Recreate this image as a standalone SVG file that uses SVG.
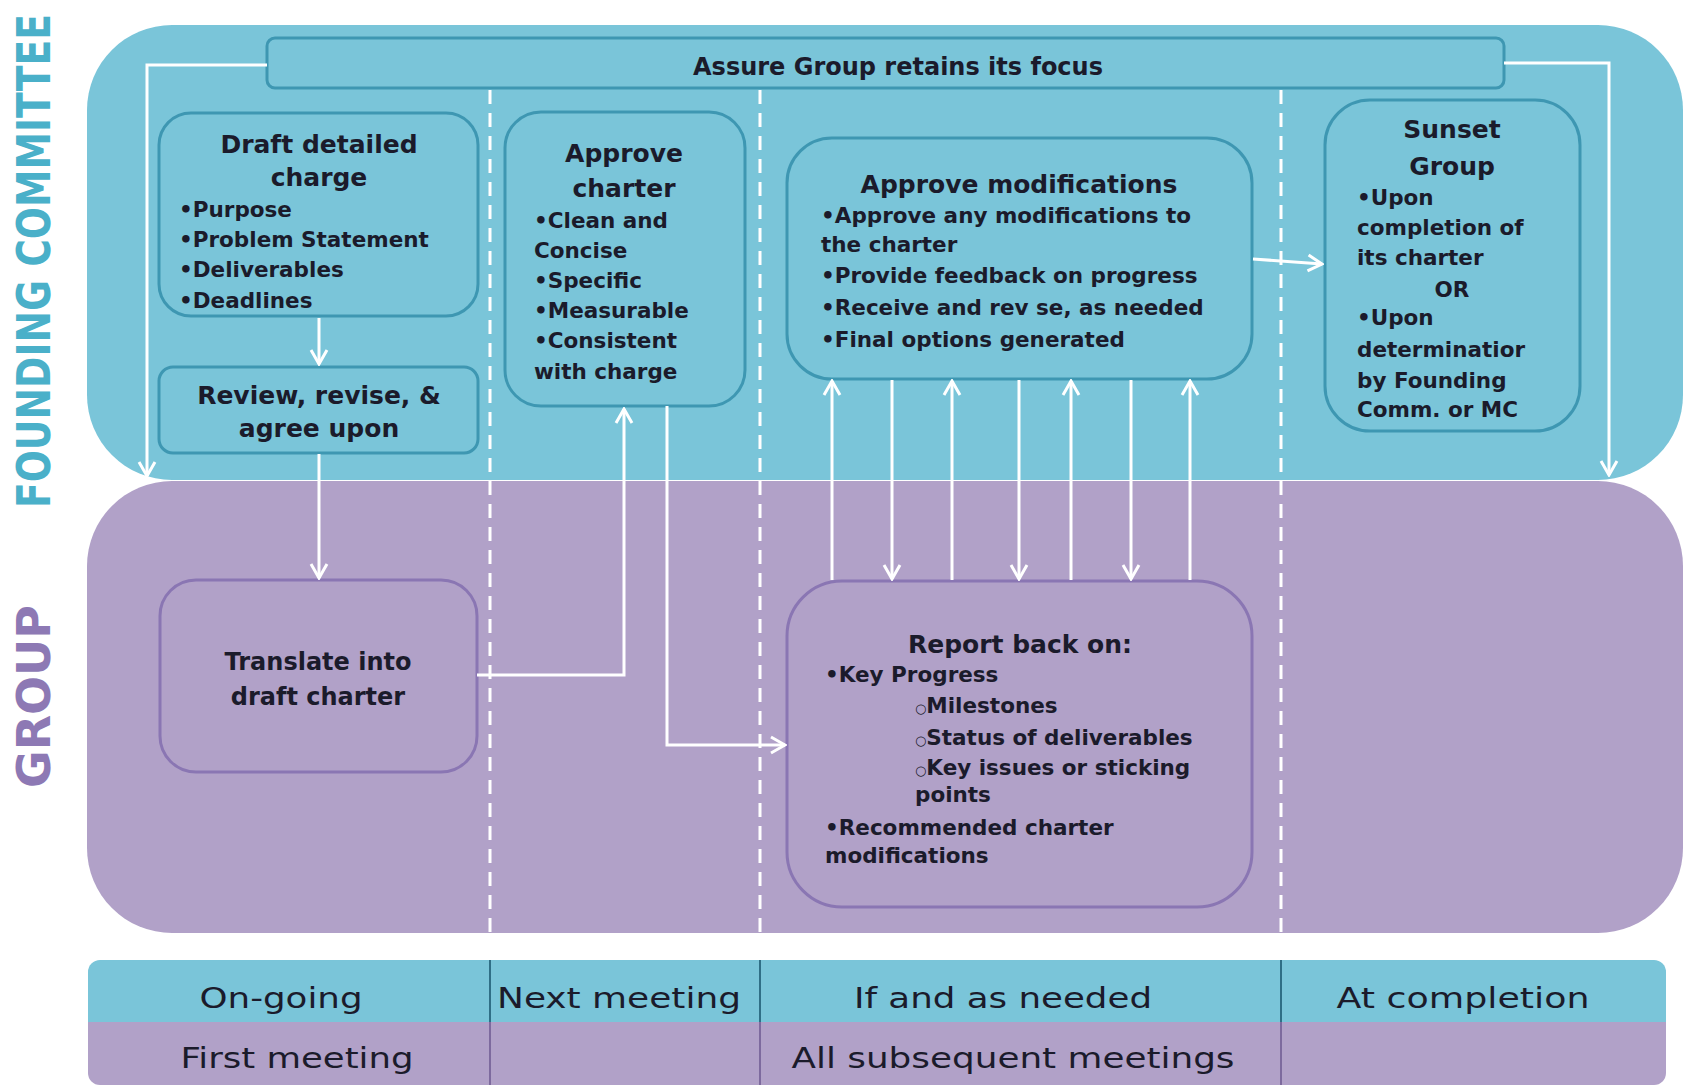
<svg xmlns="http://www.w3.org/2000/svg" width="1688" height="1087" viewBox="0 0 1688 1087">
<defs>
<style>
.bg{fill:#ffffff}
.pb{fill:#7ac5d9}
.pp{fill:#b1a1c8}
.nb{fill:#7ac5d9;stroke:#3e97b2;stroke-width:3}
.np{fill:#b1a1c8;stroke:#8a76b3;stroke-width:3}
.tt{font-family:"DejaVu Sans",sans-serif;font-weight:bold;font-size:25px;fill:#1b1b2b;text-anchor:middle}
.ti{font-family:"DejaVu Sans",sans-serif;font-weight:bold;font-size:21.5px;fill:#1b1b2b}
.tc{text-anchor:middle}
.sm{font-size:13px;font-weight:normal}
.tb{font-family:"DejaVu Sans",sans-serif;font-size:29px;fill:#1b1b2b;text-anchor:middle}
.lab{font-family:"DejaVu Sans",sans-serif;font-weight:bold}
.conn{fill:none;stroke:#ffffff;stroke-width:3}
.dash{stroke:#ffffff;stroke-width:3;stroke-dasharray:14 9}
.divb{stroke:#2f6f86;stroke-width:2}
.divp{stroke:#7d6a9e;stroke-width:2}
</style>
<marker id="arr" viewBox="0 0 18 20" markerWidth="18" markerHeight="20" refX="16" refY="10" orient="auto" markerUnits="userSpaceOnUse">
<path d="M2,2 L16,10 L2,18" fill="none" stroke="#ffffff" stroke-width="3"/>
</marker>
</defs>
<rect class="bg" x="0" y="0" width="1688" height="1087"/>

<g id="lanes">
<rect class="pb" x="87" y="25" width="1596" height="455" rx="85" ry="85"/>
<rect class="pp" x="87" y="481" width="1596" height="452" rx="85" ry="85"/>
<text class="lab" fill="#4ab0c9" font-size="37.8" transform="translate(50,508) rotate(-90) scale(1,1.24)" textLength="494" lengthAdjust="spacingAndGlyphs">FOUNDING COMMITTEE</text>
<text class="lab" fill="#8d79b4" font-size="46" transform="translate(50,788) rotate(-90)" textLength="183" lengthAdjust="spacingAndGlyphs">GROUP</text>
</g>

<g id="dividers">
<line class="dash" x1="490" y1="90" x2="490" y2="933"/>
<line class="dash" x1="760" y1="90" x2="760" y2="933"/>
<line class="dash" x1="1281" y1="90" x2="1281" y2="933"/>
</g>

<g id="focus-bar">
<rect class="nb" x="267" y="38" width="1237" height="50" rx="8"/>
<text class="tt" x="898" y="75" style="font-size:24px">Assure Group retains its focus</text>
</g>

<g id="draft-charge">
<rect class="nb" x="159" y="113" width="319" height="203" rx="32"/>
<text class="tt" x="319" y="153">Draft detailed</text>
<text class="tt" x="319" y="186">charge</text>
<text class="ti" x="179" y="217">•Purpose</text>
<text class="ti" x="179" y="247">•Problem Statement</text>
<text class="ti" x="179" y="277">•Deliverables</text>
<text class="ti" x="179" y="308">•Deadlines</text>
</g>

<g id="review">
<rect class="nb" x="159" y="367" width="319" height="86" rx="14"/>
<text class="tt" x="319" y="404">Review, revise, &amp;</text>
<text class="tt" x="319" y="437">agree upon</text>
</g>

<g id="translate">
<rect class="np" x="160" y="580" width="317" height="192" rx="36"/>
<text class="tt" x="318" y="670" style="font-size:24px">Translate into</text>
<text class="tt" x="318" y="705" style="font-size:24px">draft charter</text>
</g>

<g id="approve-charter">
<rect class="nb" x="505" y="112" width="240" height="294" rx="36"/>
<text class="tt" x="624" y="162">Approve</text>
<text class="tt" x="624" y="197">charter</text>
<text class="ti" x="534" y="228">•Clean and</text>
<text class="ti" x="534" y="258">Concise</text>
<text class="ti" x="534" y="288">•Specific</text>
<text class="ti" x="534" y="318">•Measurable</text>
<text class="ti" x="534" y="348">•Consistent</text>
<text class="ti" x="534" y="379">with charge</text>
</g>

<g id="approve-modifications">
<rect class="nb" x="787" y="138" width="465" height="241" rx="45"/>
<text class="tt" x="1019" y="193">Approve modifications</text>
<text class="ti" x="821" y="223">•Approve any modifications to</text>
<text class="ti" x="821" y="252">the charter</text>
<text class="ti" x="821" y="283">•Provide feedback on progress</text>
<text class="ti" x="821" y="315">•Receive and rev se, as needed</text>
<text class="ti" x="821" y="347">•Final options generated</text>
</g>

<g id="sunset">
<rect class="nb" x="1325" y="100" width="255" height="331" rx="45"/>
<text class="tt" x="1452" y="138">Sunset</text>
<text class="tt" x="1452" y="175">Group</text>
<text class="ti" x="1357" y="205">•Upon</text>
<text class="ti" x="1357" y="235">completion of</text>
<text class="ti" x="1357" y="265">its charter</text>
<text class="ti tc" x="1452" y="297">OR</text>
<text class="ti" x="1357" y="325">•Upon</text>
<text class="ti" x="1357" y="357">determinatior</text>
<text class="ti" x="1357" y="388">by Founding</text>
<text class="ti" x="1357" y="417">Comm. or MC</text>
</g>

<g id="report">
<rect class="np" x="787" y="581" width="465" height="326" rx="55"/>
<text class="tt" x="1020" y="653">Report back on:</text>
<text class="ti" x="825" y="682">•Key Progress</text>
<text class="ti" x="915" y="713"><tspan class="sm">○</tspan>Milestones</text>
<text class="ti" x="915" y="745"><tspan class="sm">○</tspan>Status of deliverables</text>
<text class="ti" x="915" y="775"><tspan class="sm">○</tspan>Key issues or sticking</text>
<text class="ti" x="915" y="802">points</text>
<text class="ti" x="825" y="835">•Recommended charter</text>
<text class="ti" x="825" y="863">modifications</text>
</g>

<g id="connectors">
<path class="conn" d="M267,65 H147 V476" marker-end="url(#arr)"/>
<path class="conn" d="M1504,63 H1609 V475" marker-end="url(#arr)"/>
<path class="conn" d="M319,318 V364" marker-end="url(#arr)"/>
<path class="conn" d="M319,454 V578" marker-end="url(#arr)"/>
<path class="conn" d="M477,675 H624 V409" marker-end="url(#arr)"/>
<path class="conn" d="M667,406 V745 H785" marker-end="url(#arr)"/>
<path class="conn" d="M1253,259 L1322,264" marker-end="url(#arr)"/>
<path class="conn" d="M832,580 V381" marker-end="url(#arr)"/>
<path class="conn" d="M892,380 V579" marker-end="url(#arr)"/>
<path class="conn" d="M952,580 V381" marker-end="url(#arr)"/>
<path class="conn" d="M1019,380 V579" marker-end="url(#arr)"/>
<path class="conn" d="M1071,580 V381" marker-end="url(#arr)"/>
<path class="conn" d="M1131,380 V579" marker-end="url(#arr)"/>
<path class="conn" d="M1190,580 V381" marker-end="url(#arr)"/>
</g>

<g id="timing-bar">
<path class="pb" d="M100,960 H1654 A12,12 0 0 1 1666,972 V1022 H88 V972 A12,12 0 0 1 100,960 Z"/>
<path class="pp" d="M88,1022 H1666 V1073 A12,12 0 0 1 1654,1085 H100 A12,12 0 0 1 88,1073 Z"/>
<line class="divb" x1="490" y1="960" x2="490" y2="1022"/>
<line class="divb" x1="760" y1="960" x2="760" y2="1022"/>
<line class="divb" x1="1281" y1="960" x2="1281" y2="1022"/>
<line class="divp" x1="490" y1="1022" x2="490" y2="1085"/>
<line class="divp" x1="760" y1="1022" x2="760" y2="1085"/>
<line class="divp" x1="1281" y1="1022" x2="1281" y2="1085"/>
<text class="tb" x="281" y="1008" textLength="163" lengthAdjust="spacingAndGlyphs">On-going</text>
<text class="tb" x="619" y="1008" textLength="244" lengthAdjust="spacingAndGlyphs">Next meeting</text>
<text class="tb" x="1003" y="1008" textLength="298" lengthAdjust="spacingAndGlyphs">If and as needed</text>
<text class="tb" x="1463" y="1008" textLength="253" lengthAdjust="spacingAndGlyphs">At completion</text>
<text class="tb" x="297" y="1068" textLength="233" lengthAdjust="spacingAndGlyphs">First meeting</text>
<text class="tb" x="1013" y="1068" textLength="443" lengthAdjust="spacingAndGlyphs">All subsequent meetings</text>
</g>
</svg>
